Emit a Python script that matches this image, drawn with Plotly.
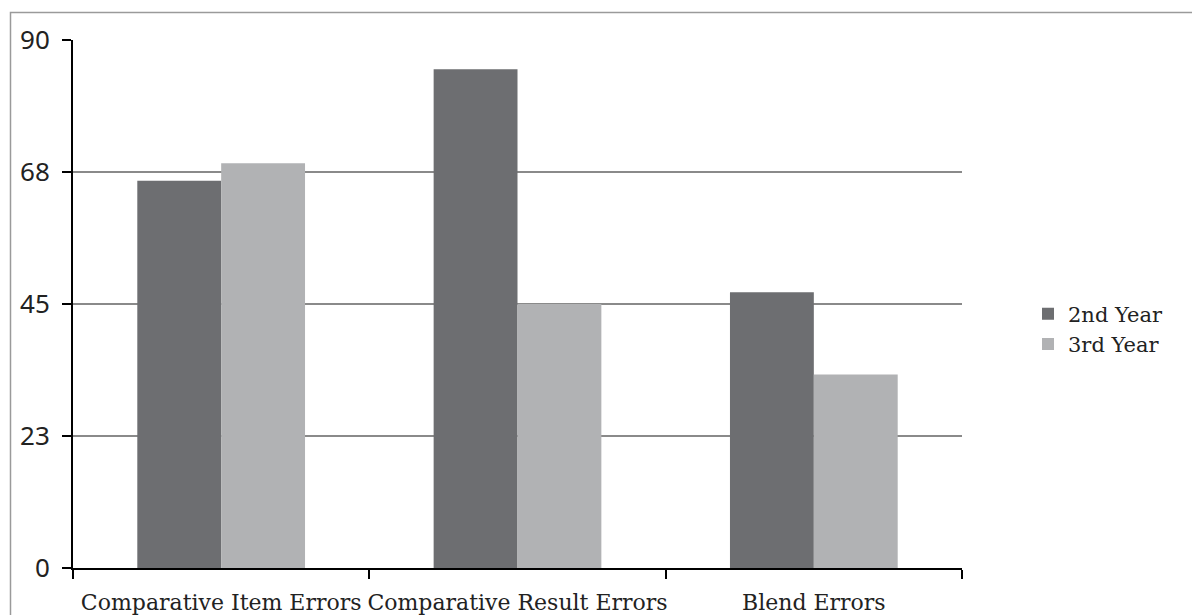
import plotly.graph_objects as go

categories = ["Comparative Item Errors", "Comparative Result Errors", "Blend Errors"]
year2 = [66, 85, 47]
year3 = [69, 45, 33]
series_names = ["2nd Year", "3rd Year"]
ytick_vals = [0, 22.5, 45, 67.5, 90]
ytick_text = ["0", "23", "45", "68", "90"]

fig = go.Figure()
fig.add_trace(go.Bar(x=categories, y=year2, name=series_names[0],
                     marker=dict(color="#6d6e71", line=dict(width=0))))
fig.add_trace(go.Bar(x=categories, y=year3, name=series_names[1],
                     marker=dict(color="#b1b2b4", line=dict(width=0))))

# page body has an 8px margin, so the figure is drawn 8px smaller and offset
OFF = 8
W, H = 1200 - OFF, 615 - OFF
L, R, T, B = 73 - OFF, 1200 - 962, 40 - OFF, 615 - 568
pw = W - L - R
ph = H - T - B

fig.update_layout(
    width=W, height=H,
    margin=dict(l=L, r=R, t=T, b=B),
    paper_bgcolor="white", plot_bgcolor="white",
    barmode="group", bargap=0.434, bargroupgap=0,
    showlegend=True,
    legend=dict(x=(1028 - 73) / pw, xanchor="left", y=(568 - 329) / ph, yanchor="middle",
                font=dict(family="DejaVu Serif", size=21, color="#222"),
                bgcolor="rgba(0,0,0,0)", itemwidth=30, tracegroupgap=0),
    xaxis=dict(
        type="category", tickson="boundaries", ticks="outside", ticklen=9,
        tickwidth=2, tickcolor="black", showline=True, linecolor="black",
        linewidth=2, showgrid=False, tickangle=0, automargin=False,
        tickfont=dict(family="DejaVu Serif", size=22, color="#222"),
        ticklabelstandoff=14,
    ),
    yaxis=dict(
        range=[0, 90], tickvals=ytick_vals, ticktext=ytick_text,
        ticks="outside", ticklen=9, tickwidth=2, tickcolor="black",
        showline=True, linecolor="black", linewidth=2, automargin=False,
        showgrid=True, gridcolor="#8a8a8a", gridwidth=2, zeroline=False,
        tickfont=dict(family="Noto Sans", size=26, color="#222"),
        ticklabelstandoff=7,
    ),
)

fig.add_shape(type="rect", xref="paper", yref="paper",
              x0=(10.5 - 73) / pw, x1=(1199 - 73) / pw,
              y0=(568 - 640) / ph, y1=(568 - 12.5) / ph,
              line=dict(color="#9a9a9a", width=1.5), fillcolor="rgba(0,0,0,0)", layer="below")

fig.write_html("out.html")
